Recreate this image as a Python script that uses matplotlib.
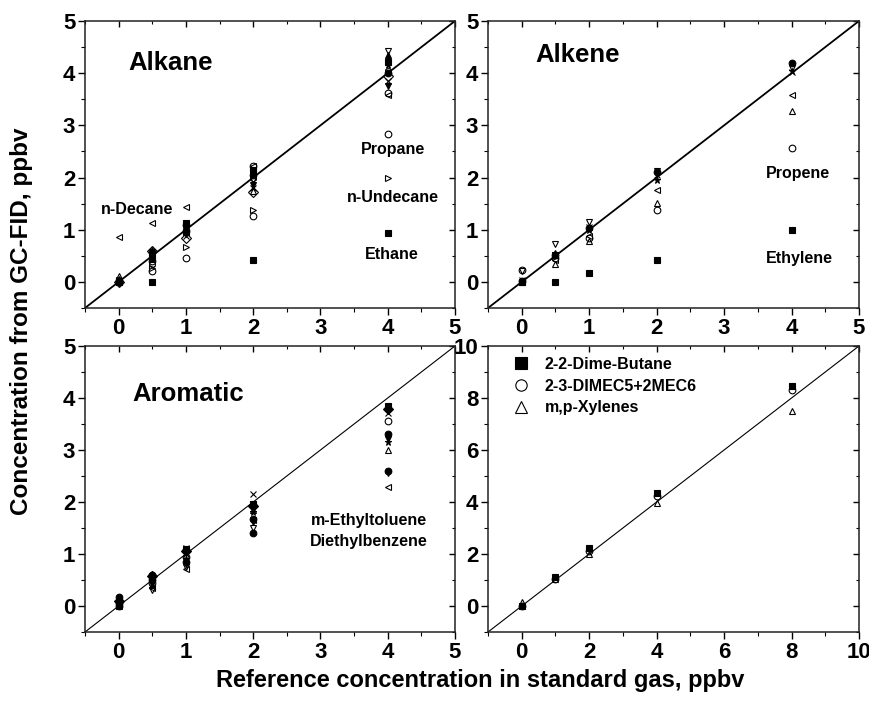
import matplotlib
matplotlib.use("Agg")
import matplotlib.pyplot as plt
from matplotlib.ticker import MultipleLocator

plt.rcParams['font.family'] = ['Liberation Sans', 'DejaVu Sans']
plt.rcParams['font.weight'] = 'bold'

# reference levels (ppbv)
levels_5 = [0, 0.5, 1, 2, 4]
levels_10 = [0, 1, 2, 4, 8]

# Alkane panel
alk_ethane = [0.0, 0.0, 0.95, 0.42, 0.93]
alk_propane = [0.0, 0.21, 0.45, 1.27, 2.83]
alk_undecane = [0.03, 0.27, 0.67, 1.38, 2.0]
alk_decane = [0.87, 1.12, 1.43, 2.22, 3.58]
alk_a = [0.02, 0.58, 1.10, 2.05, 4.00]
alk_b = [0.00, 0.48, 0.92, 1.95, 4.43]
alk_c = [0.12, 0.55, 1.02, 1.75, 4.30]
alk_d = [0.00, 0.45, 0.88, 1.80, 3.85]
alk_e = [0.05, 0.62, 1.05, 2.10, 4.15]
alk_f = [0.00, 0.40, 0.98, 2.22, 3.62]
alk_g = [0.00, 0.52, 0.95, 1.85, 3.75]
alk_h = [0.00, 0.35, 1.08, 2.00, 4.05]
alk_i = [0.02, 0.50, 1.12, 2.15, 4.22]
alk_j = [0.00, 0.60, 0.85, 1.72, 3.95]
alk_k = [0.04, 0.43, 1.00, 2.07, 4.35]

# Alkene panel
ale_ethylene = [0.0, 0.0, 0.18, 0.42, 1.0]
ale_propene = [0.22, 0.45, 0.85, 1.37, 2.57]
ale_a = [0.00, 0.35, 0.78, 1.52, 3.27]
ale_b = [0.02, 0.42, 0.88, 1.77, 3.58]
ale_c = [0.20, 0.72, 1.15, 2.12, 4.10]
ale_d = [0.02, 0.52, 1.03, 2.10, 4.20]
ale_e = [0.00, 0.55, 1.00, 1.95, 4.05]
ale_f = [0.03, 0.50, 1.06, 2.05, 4.02]

# Aromatic panel
aro_a = [0.02, 0.55, 1.10, 1.97, 3.85]
aro_b = [0.00, 0.58, 1.12, 2.15, 3.72]
aro_c = [0.00, 0.45, 0.95, 1.95, 3.55]
aro_d = [0.18, 0.60, 1.08, 1.68, 3.30]
aro_e = [0.05, 0.50, 0.85, 1.40, 2.60]
aro_f = [0.00, 0.40, 0.98, 1.85, 3.00]
aro_g = [0.00, 0.30, 0.75, 1.50, 2.55]
aro_h = [0.02, 0.35, 0.72, 1.65, 2.28]
aro_i = [0.03, 0.52, 0.90, 1.80, 3.15]
aro_j = [0.10, 0.57, 1.05, 1.92, 3.78]
aro_k = [0.00, 0.42, 0.80, 1.62, 3.22]

# high-level standard (0-10 ppbv)
dime_butane = [0.0, 1.12, 2.22, 4.33, 8.48]
dimec5_mec6 = [0.0, 1.05, 2.10, 4.22, 8.32]
mp_xylenes = [0.15, 1.02, 2.00, 3.95, 7.50]
legend_names = ['2-2-Dime-Butane', '2-3-DIMEC5+2MEC6', 'm,p-Xylenes']

W, H = 869, 705
fig = plt.figure(figsize=(W / 100, H / 100), dpi=100)

def px_axes(x0, y0, x1, y1):
    return fig.add_axes([x0 / W, 1 - y1 / H, (x1 - x0) / W, (y1 - y0) / H])

ax_tl = px_axes(85, 21, 455, 308)
ax_tr = px_axes(488, 21, 859, 308)
ax_bl = px_axes(85, 346, 455, 632)
ax_br = px_axes(488, 346, 859, 632)

ms = 4.8

def series(ax, y, marker, filled=False, xs=levels_5, size=ms, label=None):
    ax.plot(xs, y, linestyle='none', marker=marker, markersize=size,
            markeredgecolor='black', markeredgewidth=0.8,
            markerfacecolor='black' if filled else 'none', label=label)

def style_axis(ax, lim, major, minor, lw_line):
    ax.set_xlim(lim)
    ax.set_ylim(lim)
    ax.plot(lim, lim, color='black', lw=lw_line, zorder=1)
    for s in ax.spines.values():
        s.set_linewidth(1.1)
        s.set_color('#222222')
    ax.xaxis.set_major_locator(MultipleLocator(major))
    ax.xaxis.set_minor_locator(MultipleLocator(minor))
    ax.yaxis.set_major_locator(MultipleLocator(major))
    ax.yaxis.set_minor_locator(MultipleLocator(minor))
    ax.tick_params(which='major', direction='out', length=5, width=1,
                   labelsize=16, pad=2)
    ax.tick_params(which='minor', direction='out', length=3, width=0.8)
    # mirrored inward ticks on top and right
    top = ax.secondary_xaxis('top')
    right = ax.secondary_yaxis('right')
    for sec, axis in ((top, top.xaxis), (right, right.yaxis)):
        axis.set_major_locator(MultipleLocator(major))
        axis.set_minor_locator(MultipleLocator(minor))
        sec.tick_params(which='major', direction='in', length=4, width=1)
        sec.tick_params(which='minor', direction='in', length=2.5, width=0.8)
        axis.set_ticklabels([])
        for s in sec.spines.values():
            s.set_visible(False)

def fmt(v, pos):
    return f'{v:g}'

lab_kw = dict(fontsize=11.5, fontweight='bold', ha='center', va='center')
title_kw = dict(fontsize=18.5, fontweight='bold', va='center')

# --- Alkane ---
style_axis(ax_tl, (-0.5, 5), 1, 0.5, 1.3)
series(ax_tl, alk_a, 'o', True)
series(ax_tl, alk_b, 'v')
series(ax_tl, alk_c, '^')
series(ax_tl, alk_d, 'x')
series(ax_tl, alk_e, '*', True)
series(ax_tl, alk_f, 'o')
series(ax_tl, alk_g, 'v', True)
series(ax_tl, alk_h, 'h')
series(ax_tl, alk_i, 's', True)
series(ax_tl, alk_j, 'D')
series(ax_tl, alk_k, '^', True)
series(ax_tl, alk_decane, '<')
series(ax_tl, alk_undecane, '>')
series(ax_tl, alk_propane, 'o')
series(ax_tl, alk_ethane, 's', True)
ax_tl.text(0.14, 4.2, 'Alkane', **title_kw)
ax_tl.text(0.28, 1.38, 'n-Decane', **lab_kw)
ax_tl.text(4.08, 2.53, 'Propane', **lab_kw)
ax_tl.text(4.08, 1.61, 'n-Undecane', **lab_kw)
ax_tl.text(4.06, 0.52, 'Ethane', **lab_kw)

# --- Alkene ---
style_axis(ax_tr, (-0.5, 5), 1, 0.5, 1.3)
series(ax_tr, ale_d, 'o', True)
series(ax_tr, ale_e, '*', True)
series(ax_tr, ale_f, 'x')
series(ax_tr, ale_c, 'v')
series(ax_tr, ale_b, '<')
series(ax_tr, ale_a, '^')
series(ax_tr, ale_propene, 'o')
series(ax_tr, ale_ethylene, 's', True)
ax_tr.text(0.2, 4.35, 'Alkene', **title_kw)
ax_tr.text(4.1, 2.07, 'Propene', **lab_kw)
ax_tr.text(4.11, 0.44, 'Ethylene', **lab_kw)

# --- Aromatic ---
style_axis(ax_bl, (-0.5, 5), 1, 0.5, 0.8)
series(ax_bl, aro_a, 's', True)
series(ax_bl, aro_b, 'x')
series(ax_bl, aro_c, 'o')
series(ax_bl, aro_d, 'o', True)
series(ax_bl, aro_e, 'o', True)
series(ax_bl, aro_f, '^')
series(ax_bl, aro_g, 'v')
series(ax_bl, aro_h, '<')
series(ax_bl, aro_i, '*', True)
series(ax_bl, aro_j, 'D', True)
series(ax_bl, aro_k, 'v', True)
ax_bl.text(0.2, 4.07, 'Aromatic', **title_kw)
ax_bl.text(3.72, 1.65, 'm-Ethyltoluene', **lab_kw)
ax_bl.text(3.72, 1.24, 'Diethylbenzene', **lab_kw)

# --- 0-10 ppbv ---
style_axis(ax_br, (-1, 10), 2, 1, 0.8)
series(ax_br, dime_butane, 's', True, xs=levels_10, label=legend_names[0])
series(ax_br, dimec5_mec6, 'o', xs=levels_10, label=legend_names[1])
series(ax_br, mp_xylenes, '^', xs=levels_10, label=legend_names[2])
ax_br.legend(loc='upper left', frameon=False, markerscale=1.7,
             prop={'weight': 'bold', 'size': 11.5}, handlelength=1.0,
             handletextpad=1.0, labelspacing=0.42, borderpad=0,
             borderaxespad=0, bbox_to_anchor=(0.067, 0.962))

for ax in (ax_tl, ax_tr, ax_bl, ax_br):
    ax.xaxis.set_major_formatter(fmt)
    ax.yaxis.set_major_formatter(fmt)
    for lab in ax.get_xticklabels() + ax.get_yticklabels():
        lab.set_fontweight('bold')

fig.text(22 / W, 1 - 321 / H, 'Concentration from GC-FID, ppbv', rotation=90,
         ha='center', va='center', fontsize=17.5, fontweight='bold')
fig.text(480 / W, 1 - 680 / H, 'Reference concentration in standard gas, ppbv',
         ha='center', va='center', fontsize=17, fontweight='bold')

fig.savefig('out.png', dpi=100)
